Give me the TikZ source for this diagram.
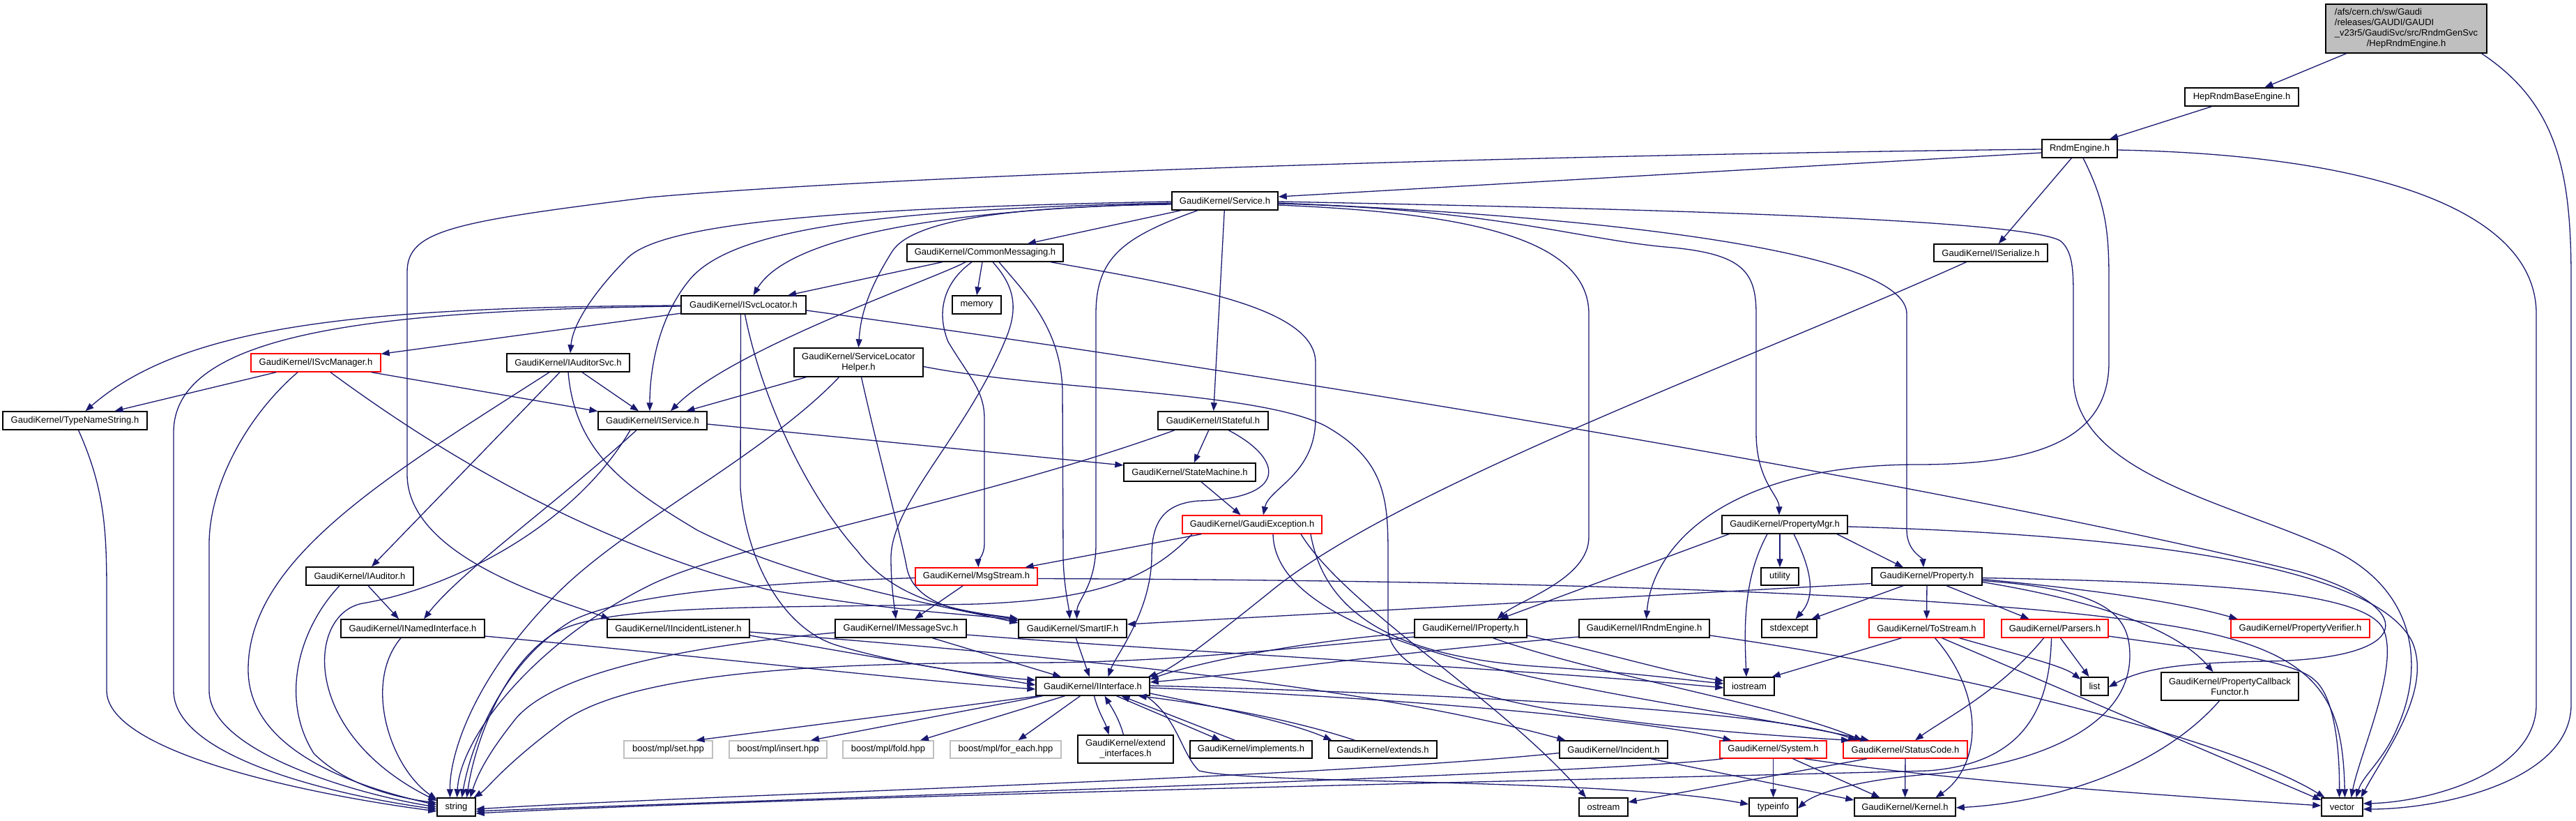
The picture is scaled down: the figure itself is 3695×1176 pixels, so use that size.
\documentclass[tikz,border=0pt]{standalone}
\usepackage{fontspec}
\setmainfont{Liberation Sans}
\usetikzlibrary{arrows.meta}
\definecolor{edgeblue}{HTML}{191970}
\definecolor{boxgray}{HTML}{BFBFBF}
\definecolor{rootgray}{HTML}{BFBFBF}
\newcommand\nodefont{\fontsize{13}{15}\selectfont}
\tikzset{
  nbox/.style={draw=black, line width=1.4pt, fill=white, inner sep=0pt, minimum height=26pt, font=\nodefont, text=black},
  rbox/.style={nbox, draw=red},
  gbox/.style={nbox, draw=boxgray},
  edg/.style={draw=edgeblue, line width=1.3pt, -{Triangle[length=12pt,width=9pt]}}
}
\begin{document}
\begin{tikzpicture}[x=1pt,y=-1pt]
\useasboundingbox (0,0) rectangle (3695,1176);
\fill[white] (0,0) rectangle (3695,1176);
% ---------------- nodes ----------------
\node[nbox, fill=rootgray, minimum width=231pt, minimum height=70pt] (root) at (3451.5,41)
  {\begin{tabular}{@{}l@{}}/afs/cern.ch/sw/Gaudi\\/releases/GAUDI/GAUDI\\\_v23r5/GaudiSvc/src/RndmGenSvc\\\multicolumn{1}{@{}c@{}}{/HepRndmEngine.h}\end{tabular}};
\node[nbox, minimum width=163pt] (hrbe) at (3215.5,139) {HepRndmBaseEngine.h};
\node[nbox, minimum width=108pt] (re) at (2983,213) {RndmEngine.h};
\node[nbox, minimum width=163pt, minimum height=25pt] (iser) at (2855.5,362.5) {GaudiKernel/ISerialize.h};
\node[nbox, minimum width=152pt] (svc) at (1757,288) {GaudiKernel/Service.h};
\node[nbox, minimum width=224pt, minimum height=25pt] (cm) at (1413,362.5) {GaudiKernel/CommonMessaging.h};
\node[nbox, minimum width=179pt] (isl) at (1066.5,437) {GaudiKernel/ISvcLocator.h};
\node[nbox, minimum width=70pt] (mem) at (1401,437) {memory};
\node[nbox, minimum width=185pt, minimum height=41pt, align=center] (slh) at (1231.5,519.5) {GaudiKernel/ServiceLocator\\Helper.h};
\node[rbox, minimum width=186pt] (ism) at (453,520) {GaudiKernel/ISvcManager.h};
\node[nbox, minimum width=176pt] (ias) at (815,520) {GaudiKernel/IAuditorSvc.h};
\node[nbox, minimum width=207pt] (tns) at (107.5,603) {GaudiKernel/TypeNameString.h};
\node[nbox, minimum width=156pt] (isvc) at (936,603) {GaudiKernel/IService.h};
\node[nbox, minimum width=158pt] (ist) at (1740,603) {GaudiKernel/IStateful.h};
\node[nbox, minimum width=189pt] (sm) at (1706.5,677) {GaudiKernel/StateMachine.h};
\node[rbox, minimum width=200pt] (gex) at (1796,752) {GaudiKernel/GaudiException.h};
\node[nbox, minimum width=180pt] (pmgr) at (2560,752) {GaudiKernel/PropertyMgr.h};
\node[nbox, minimum width=154pt] (iaud) at (516,826) {GaudiKernel/IAuditor.h};
\node[rbox, minimum width=175pt, minimum height=25pt] (ms) at (1400.5,826.5) {GaudiKernel/MsgStream.h};
\node[nbox, minimum width=54pt, minimum height=25pt] (util) at (2553,826.5) {utility};
\node[nbox, minimum width=158pt, minimum height=25pt] (prop) at (2764,826.5) {GaudiKernel/Property.h};
\node[nbox, minimum width=206pt] (ini) at (592,901) {GaudiKernel/INamedInterface.h};
\node[nbox, minimum width=204pt] (iil) at (973,901) {GaudiKernel/IIncidentListener.h};
\node[nbox, minimum width=188pt] (imsg) at (1292,901) {GaudiKernel/IMessageSvc.h};
\node[nbox, minimum width=155pt] (sif) at (1538.5,901) {GaudiKernel/SmartIF.h};
\node[nbox, minimum width=161pt] (iprop) at (2109.5,901) {GaudiKernel/IProperty.h};
\node[nbox, minimum width=187pt] (irnd) at (2358.5,901) {GaudiKernel/IRndmEngine.h};
\node[nbox, minimum width=79pt] (stdx) at (2566.5,901) {stdexcept};
\node[rbox, minimum width=165pt] (tos) at (2763.5,901) {GaudiKernel/ToStream.h};
\node[rbox, minimum width=153pt] (pars) at (2947.5,901) {GaudiKernel/Parsers.h};
\node[rbox, minimum width=199pt] (pver) at (3299.5,901) {GaudiKernel/PropertyVerifier.h};
\node[nbox, minimum width=163pt] (iint) at (1567.5,984) {GaudiKernel/IInterface.h};
\node[nbox, minimum width=72pt] (ios) at (2509,984) {iostream};
\node[nbox, minimum width=39pt] (lst) at (3004.5,984) {list};
\node[nbox, minimum width=197pt, minimum height=40pt, align=center] (pcf) at (3198.5,984) {GaudiKernel/PropertyCallback\\Functor.h};
\node[gbox, minimum width=127pt, minimum height=25pt] (bset) at (958.5,1074.5) {boost/mpl/set.hpp};
\node[gbox, minimum width=140pt, minimum height=25pt] (bins) at (1116,1074.5) {boost/mpl/insert.hpp};
\node[gbox, minimum width=130pt, minimum height=25pt] (bfold) at (1274,1074.5) {boost/mpl/fold.hpp};
\node[gbox, minimum width=159pt, minimum height=25pt] (bfe) at (1442.5,1074.5) {boost/mpl/for\_each.hpp};
\node[nbox, minimum width=137pt, minimum height=40pt, align=center] (extif) at (1614.5,1074) {GaudiKernel/extend\\\_interfaces.h};
\node[nbox, minimum width=175pt, minimum height=25pt] (impl) at (1794.5,1074.5) {GaudiKernel/implements.h};
\node[nbox, minimum width=155pt, minimum height=25pt] (exts) at (1983.5,1074.5) {GaudiKernel/extends.h};
\node[nbox, minimum width=155pt, minimum height=25pt] (inc) at (2314.5,1074.5) {GaudiKernel/Incident.h};
\node[rbox, minimum width=153pt, minimum height=25pt] (sys) at (2543.5,1074.5) {GaudiKernel/System.h};
\node[rbox, minimum width=178pt, minimum height=25pt] (sc) at (2733,1074.5) {GaudiKernel/StatusCode.h};
\node[nbox, minimum width=55pt] (str) at (654.5,1157) {string};
\node[nbox, minimum width=70pt] (ost) at (2300,1157) {ostream};
\node[nbox, minimum width=69pt] (tinfo) at (2543.5,1157) {typeinfo};
\node[nbox, minimum width=145pt] (kern) at (2732.5,1157) {GaudiKernel/Kernel.h};
\node[nbox, minimum width=59pt] (vec) at (3359.5,1157) {vector};
% ---------------- edges ----------------
% root / HepRndmBaseEngine / RndmEngine
\draw[edg] (root) -- (hrbe);
\draw[edg] ([xshift=108pt]root.south) .. controls (3670,150) and (3688,250) .. (3688,400) -- (3688,1010) .. controls (3688,1120) and (3500,1160) .. ([yshift=-3pt]vec.east);
\draw[edg] (hrbe) -- (re);
\draw[edg] ([yshift=-6pt]re.west) -- ([yshift=6pt]svc.east);
\draw[edg] ([yshift=-1pt]re.west) .. controls (2200,222) and (1300,250) .. (930,283) .. controls (650,318) and (584,330) .. (584,390) -- (584,680) .. controls (584,800) and (800,860) .. ([xshift=4pt]iil.north west);
\draw[edg] (re) -- (iser);
\draw[edg] ([xshift=5pt]re.south) .. controls (3020,290) and (3025,330) .. (3025,400) -- (3025,520) .. controls (3025,640) and (2900,666) .. (2750,666) .. controls (2480,666) and (2370,780) .. ([xshift=3pt]irnd.north);
\draw[edg] ([yshift=-2pt]re.east) .. controls (3400,222) and (3638,300) .. (3638,450) -- (3638,1010) .. controls (3638,1110) and (3480,1150) .. ([yshift=5pt]vec.east);
% Service.h
\draw[edg] ([yshift=-1pt]svc.west) .. controls (1200,298) and (950,320) .. (900,370) .. controls (860,410) and (822,460) .. ([xshift=3pt]ias.north);
\draw[edg] ([yshift=-3pt]svc.west) .. controls (1250,300) and (1050,330) .. (990,400) .. controls (940,460) and (932,540) .. ([xshift=-4pt]isvc.north);
\draw[edg] ([yshift=-4pt]svc.west) .. controls (1350,300) and (1130,340) .. ([xshift=14pt]isl.north);
\draw[edg] ([yshift=-5pt]svc.west) .. controls (1450,296) and (1310,315) .. (1280,360) .. controls (1255,400) and (1235,440) .. (slh.north);
\draw[edg] (svc) -- (cm);
\draw[edg] ([xshift=-39pt]svc.south) .. controls (1610,340) and (1572,370) .. (1572,450) -- (1572,780) .. controls (1572,840) and (1545,860) .. ([xshift=6pt]sif.north);
\draw[edg] (svc) -- (ist);
\draw[edg] ([yshift=-6pt]svc.east) .. controls (2100,305) and (2279,340) .. (2279,450) -- (2279,770) .. controls (2279,830) and (2180,860) .. ([xshift=38pt]iprop.north);
\draw[edg] ([yshift=-4pt]svc.east) .. controls (2150,300) and (2270,345) .. (2400,355) .. controls (2500,365) and (2519,390) .. (2519,450) -- (2519,620) .. controls (2519,690) and (2552,710) .. ([xshift=-8pt]pmgr.north);
\draw[edg] ([yshift=-3pt]svc.east) .. controls (2300,310) and (2735,360) .. (2735,450) -- (2735,760) .. controls (2735,790) and (2758,800) .. ([xshift=-5pt]prop.north);
\draw[edg] ([yshift=-1pt]svc.east) .. controls (2400,300) and (2900,315) .. (2955,345) .. controls (2974,360) and (2974,390) .. (2974,430) -- (2974,540) .. controls (2974,680) and (3200,720) .. (3350,790) .. controls (3470,850) and (3475,960) .. (3440,1040) .. controls (3420,1090) and (3390,1110) .. ([xshift=20pt]vec.north);
% ISerialize
\draw[edg] ([xshift=-35pt]iser.south) .. controls (2500,520) and (2000,700) .. (1820,850) .. controls (1720,930) and (1680,960) .. ([xshift=-3pt]iint.north east);
% CommonMessaging
\draw[edg] (cm) -- (isl);
\draw[edg] ([xshift=-28pt]cm.south) .. controls (1340,400) and (1050,500) .. ([xshift=26pt]isvc.north);
\draw[edg] ([xshift=-19pt]cm.south) .. controls (1360,400) and (1340,440) .. (1360,490) .. controls (1390,540) and (1412,560) .. (1412,600) -- (1412,780) .. controls (1412,795) and (1403,805) .. ([xshift=3pt]ms.north);
\draw[edg] ([xshift=-4pt]cm.south) -- (mem.north);
\draw[edg] ([xshift=11pt]cm.south) .. controls (1455,410) and (1460,440) .. (1445,480) .. controls (1390,620) and (1278,720) .. (1278,800) .. controls (1278,840) and (1283,870) .. ([xshift=-7pt]imsg.north);
\draw[edg] ([xshift=20pt]cm.south) .. controls (1470,420) and (1522,470) .. (1524,560) -- (1525,800) .. controls (1526,840) and (1533,870) .. ([xshift=-4pt]sif.north);
\draw[edg] ([xshift=94pt]cm.south) .. controls (1700,410) and (1887,440) .. (1887,520) -- (1887,600) .. controls (1887,680) and (1820,700) .. ([xshift=16pt]gex.north);
% ISvcLocator
\draw[edg] ([yshift=-1pt]isl.west) .. controls (500,440) and (260,470) .. ([xshift=15pt]tns.north);
\draw[edg] ([yshift=-2pt]isl.west) .. controls (520,445) and (249,480) .. (249,620) -- (249,990) .. controls (249,1090) and (500,1143) .. ([yshift=-3pt]str.west);
\draw[edg] (isl) -- (ism);
\draw[edg] ([xshift=-4pt]isl.south) -- (1062,700) .. controls (1070,800) and (1120,900) .. (1200,925) .. controls (1300,955) and (1420,970) .. ([yshift=9pt]iint.west);
\draw[edg] ([xshift=2pt]isl.south) .. controls (1090,560) and (1150,700) .. (1230,790) .. controls (1290,870) and (1400,878) .. ([yshift=14pt]sif.west);
\draw[edg] ([yshift=-8pt]isl.east) .. controls (2000,560) and (2900,720) .. (3300,820) .. controls (3470,870) and (3470,945) .. (3250,948) .. controls (3120,950) and (3070,960) .. ([yshift=-1pt]lst.east);
% ISvcManager
\draw[edg] (ism) -- (tns);
\draw[edg] ([xshift=-26pt]ism.south) .. controls (350,600) and (300,700) .. (300,780) -- (300,990) .. controls (300,1080) and (520,1140) .. (str.west);
\draw[edg] (ism) -- (isvc);
\draw[edg] ([xshift=21pt]ism.south) .. controls (700,700) and (900,790) .. (1100,845) .. controls (1300,880) and (1400,880) .. ([yshift=11pt]sif.west);
% IAuditorSvc
\draw[edg] ([xshift=-27pt]ias.south) .. controls (560,680) and (356,800) .. (356,960) .. controls (356,1080) and (520,1130) .. ([yshift=3pt]str.west);
\draw[edg] ([xshift=-12pt]ias.south) -- ([xshift=17pt]iaud.north);
\draw[edg] (ias.south) .. controls (825,650) and (900,700) .. (1000,760) .. controls (1150,835) and (1350,868) .. ([yshift=8pt]sif.west);
\draw[edg] (ias) -- (isvc);
% TypeNameString
\draw[edg] ([xshift=5pt]tns.south) .. controls (150,700) and (153,760) .. (153,850) -- (153,990) .. controls (153,1080) and (450,1140) .. ([yshift=-6pt]str.west);
% IService
\draw[edg] ([yshift=-5pt]isvc.east) -- ([yshift=10pt]sm.west);
\draw[edg] ([xshift=-23pt]isvc.south) .. controls (800,720) and (660,820) .. ([xshift=16pt]ini.north);
\draw[edg] ([xshift=-32pt]isvc.south) .. controls (820,760) and (640,845) .. (520,865) .. controls (440,880) and (430,1050) .. ([yshift=9pt]str.west);
% ServiceLocatorHelper
\draw[edg] (slh) -- (isvc);
\draw[edg] ([xshift=-28pt]slh.south) .. controls (1100,650) and (900,750) .. (800,850) .. controls (680,970) and (645,1080) .. ([xshift=-9pt]str.north);
\draw[edg] ([xshift=4pt]slh.south) .. controls (1260,650) and (1290,760) .. (1300,810) .. controls (1310,880) and (1420,880) .. ([yshift=12pt]sif.west);
\draw[edg] ([yshift=-6pt]slh.east) .. controls (1500,560) and (1800,560) .. (1900,610) .. controls (1990,660) and (1991,720) .. (1991,800) -- (1991,900) .. controls (1991,1000) and (2300,1040) .. ([xshift=-80pt]sc.north);
% IStateful
\draw[edg] (ist) -- (sm);
\draw[edg] ([xshift=-55pt]ist.south) .. controls (1400,720) and (1050,780) .. (930,840) .. controls (760,925) and (660,1060) .. ([xshift=1pt]str.north);
\draw[edg] ([xshift=22pt]ist.south) .. controls (1845,660) and (1845,715) .. (1720,718) .. controls (1660,722) and (1652,760) .. (1652,800) .. controls (1650,880) and (1600,940) .. ([xshift=22pt]iint.north);
% StateMachine
\draw[edg] (sm) -- (gex);
% GaudiException
\draw[edg] (gex) -- (ms);
\draw[edg] ([xshift=-86pt]gex.south) .. controls (1640,840) and (1550,860) .. (1400,866) .. controls (1100,872) and (880,865) .. (800,905) .. controls (720,950) and (680,1070) .. ([xshift=15pt]str.north);
\draw[edg] ([xshift=84pt]gex.south) .. controls (1900,880) and (2000,940) .. (2200,955) .. controls (2350,965) and (2420,975) .. ([yshift=4pt]ios.west);
\draw[edg] ([xshift=70pt]gex.south) .. controls (1930,870) and (2150,1000) .. ([xshift=-25pt]ost.north);
\draw[edg] ([xshift=30pt]gex.south) .. controls (1830,950) and (2400,1000) .. ([xshift=-52pt]sc.north);
% MsgStream
\draw[edg] (ms) -- (imsg);
\draw[edg] ([yshift=-2pt]ms.west) .. controls (1100,835) and (900,850) .. (820,890) .. controls (720,950) and (675,1070) .. ([xshift=8pt]str.north);
\draw[edg] ([yshift=-3pt]ms.east) .. controls (2200,832) and (2800,850) .. (3100,895) .. controls (3330,930) and (3360,1000) .. ([xshift=4pt]vec.north);
% IMessageSvc
\draw[edg] (imsg) -- (iint);
\draw[edg] ([yshift=-6pt]imsg.west) .. controls (1000,925) and (800,960) .. (740,1030) .. controls (700,1080) and (685,1110) .. ([xshift=20pt]str.north);
\draw[edg] ([yshift=-9pt]imsg.east) .. controls (1700,935) and (2200,960) .. ([yshift=-2pt]ios.west);
% IIncidentListener
\draw[edg] ([yshift=-10pt]iil.east) -- ([yshift=2pt]iint.west);
\draw[edg] ([yshift=-5pt]iil.east) .. controls (1500,940) and (1950,980) .. ([xshift=-69pt]inc.north);
% SmartIF
\draw[edg] (sif) -- (iint);
% IInterface
\draw[edg] ([xshift=5pt]iint.south west) -- ([xshift=40pt]bset.north);
\draw[edg] ([xshift=-72pt]iint.south) -- ([xshift=47pt]bins.north);
\draw[edg] ([xshift=-40pt]iint.south) -- ([xshift=46pt]bfold.north);
\draw[edg] ([xshift=-18pt]iint.south) -- ([xshift=18pt]bfe.north);
\draw[edg] ([xshift=2pt]iint.south) .. controls (1575,1020) and (1585,1035) .. ([xshift=-24pt]extif.north);
\draw[edg] ([xshift=-3pt]extif.north) .. controls (1605,1030) and (1595,1015) .. ([xshift=17pt]iint.south);
\draw[edg] ([xshift=34pt]iint.south) -- ([xshift=-44pt]impl.north);
\draw[edg] ([xshift=-23pt]impl.north) -- ([xshift=41pt]iint.south);
\draw[edg] ([yshift=-10pt]iint.east) .. controls (1750,1015) and (1850,1035) .. ([xshift=-73pt]exts.north);
\draw[edg] ([xshift=-40pt]exts.north) .. controls (1850,1030) and (1720,1008) .. ([xshift=-17pt]iint.south east);
\draw[edg] ([yshift=-2pt]iint.east) .. controls (2000,1000) and (2350,1030) .. ([xshift=-60pt]sys.north);
\draw[edg] ([yshift=1pt]iint.east) .. controls (2100,995) and (2550,1020) .. ([xshift=-70pt]sc.north);
\draw[edg] ([xshift=-6pt]iint.south east) .. controls (1690,1030) and (1694,1080) .. (1720,1105) .. controls (1800,1125) and (2300,1115) .. ([yshift=4pt]tinfo.west);
% Incident
\draw[edg] ([yshift=-5pt]inc.west) .. controls (1900,1115) and (1000,1140) .. ([yshift=-3pt]str.east);
\draw[edg] ([xshift=53pt]inc.south) -- ([yshift=10pt]kern.west);
% System
\draw[edg] ([xshift=-72pt]sys.south) .. controls (2300,1110) and (1000,1150) .. ([yshift=-6pt]str.east);
\draw[edg] (sys) -- (tinfo);
\draw[edg] ([xshift=28pt]sys.south) -- ([xshift=-36pt]kern.north);
\draw[edg] ([xshift=45pt]sys.south) .. controls (2800,1120) and (3100,1140) .. ([yshift=2pt]vec.west);
% StatusCode
\draw[edg] ([xshift=-55pt]sc.south) -- ([yshift=7pt]ost.east);
\draw[edg] (sc) -- (kern);
% IProperty
\draw[edg] ([yshift=-6pt]iprop.west) .. controls (1850,920) and (1700,955) .. ([yshift=10pt]iint.east);
\draw[edg] ([yshift=-12pt]iprop.west) .. controls (1800,935) and (1650,950) .. (1480,950) .. controls (1200,950) and (900,960) .. (800,1040) .. controls (720,1100) and (700,1130) .. ([xshift=-3pt]str.north east);
\draw[edg] ([yshift=-10pt]iprop.east) .. controls (2300,935) and (2400,965) .. ([yshift=8pt]ios.west);
\draw[edg] ([xshift=32pt]iprop.south) .. controls (2300,970) and (2550,1010) .. ([xshift=-62pt]sc.north);
% IRndmEngine
\draw[edg] ([yshift=-12pt]irnd.west) .. controls (2000,935) and (1800,965) .. ([yshift=6pt]iint.east);
\draw[edg] ([yshift=-10pt]irnd.east) .. controls (2800,960) and (3200,1060) .. ([xshift=-25pt]vec.north);
% INamedInterface / IAuditor
\draw[edg] ([yshift=-11pt]ini.east) .. controls (1000,940) and (1300,975) .. ([yshift=-4pt]iint.west);
\draw[edg] ([xshift=-17pt]ini.south) .. controls (520,980) and (560,1100) .. ([yshift=11pt]str.west);
\draw[edg] ([xshift=12pt]iaud.south) -- ([xshift=-20pt]ini.north);
\draw[edg] ([xshift=-29pt]iaud.south) .. controls (430,900) and (400,1000) .. (450,1080) .. controls (500,1130) and (580,1145) .. ([yshift=6pt]str.west);
% PropertyMgr
\draw[edg] ([xshift=-80pt]pmgr.south) -- ([xshift=42pt]iprop.north);
\draw[edg] ([xshift=-25pt]pmgr.south) .. controls (2500,830) and (2502,900) .. ([xshift=-4pt]ios.north);
\draw[edg] ([xshift=-7pt]pmgr.south) -- (util.north);
\draw[edg] ([xshift=13pt]pmgr.south) .. controls (2605,830) and (2600,860) .. ([xshift=9pt]stdx.north);
\draw[edg] ([xshift=75pt]pmgr.south) -- ([xshift=-34pt]prop.north);
\draw[edg] ([yshift=-3pt]pmgr.east) .. controls (3000,765) and (3400,800) .. (3460,920) .. controls (3490,990) and (3420,1080) .. ([xshift=27pt]vec.north);
% Property
\draw[edg] ([yshift=-10pt]prop.west) -- ([yshift=6pt]sif.east);
\draw[edg] ([xshift=-34pt]prop.south) -- ([xshift=32pt]stdx.north);
\draw[edg] (prop) -- (tos);
\draw[edg] ([xshift=28pt]prop.south) -- ([xshift=-37pt]pars.north);
\draw[edg] ([yshift=-4pt]prop.east) .. controls (3000,845) and (3120,862) .. ([xshift=-90pt]pver.north);
\draw[edg] ([yshift=-8pt]prop.east) .. controls (3000,860) and (3120,900) .. ([xshift=-24pt]pcf.north);
\draw[edg] ([yshift=-2pt]prop.east) .. controls (3200,835) and (3400,850) .. (3420,905) .. controls (3440,960) and (3385,1080) .. ([xshift=13pt]vec.north);
\draw[edg] ([yshift=-6pt]prop.east) .. controls (3020,845) and (3055,880) .. (3055,940) .. controls (3055,1050) and (2900,1100) .. (2765,1110) .. controls (2650,1120) and (2600,1140) .. ([yshift=-2pt]tinfo.east);
% ToStream
\draw[edg] ([xshift=-36pt]tos.south) -- ([xshift=-4pt]ios.north east);
\draw[edg] ([xshift=47pt]tos.south) .. controls (2900,940) and (2960,955) .. ([yshift=10pt]lst.west);
\draw[edg] ([xshift=22pt]tos.south) -- ([yshift=10pt]vec.west);
\draw[edg] ([xshift=12pt]tos.south) .. controls (2850,1000) and (2840,1100) .. ([xshift=44pt]kern.north);
% Parsers
\draw[edg] ([xshift=8pt]pars.south) -- ([xshift=-8pt]lst.north);
\draw[edg] ([yshift=-11pt]pars.east) .. controls (3150,930) and (3290,945) .. (3320,975) .. controls (3350,1000) and (3356,1080) .. ([xshift=-4pt]vec.north);
\draw[edg] ([xshift=-16pt]pars.south) .. controls (2870,990) and (2790,1030) .. ([xshift=14pt]sc.north);
\draw[edg] ([xshift=-5pt]pars.south) .. controls (2940,1020) and (2900,1095) .. (2765,1105) .. controls (2400,1115) and (1200,1140) .. ([yshift=-9pt]str.east);
% PropertyCallbackFunctor
\draw[edg] ([xshift=-15pt]pcf.south) .. controls (3100,1100) and (2950,1150) .. ([yshift=-1pt]kern.east);
\end{tikzpicture}
\end{document}
